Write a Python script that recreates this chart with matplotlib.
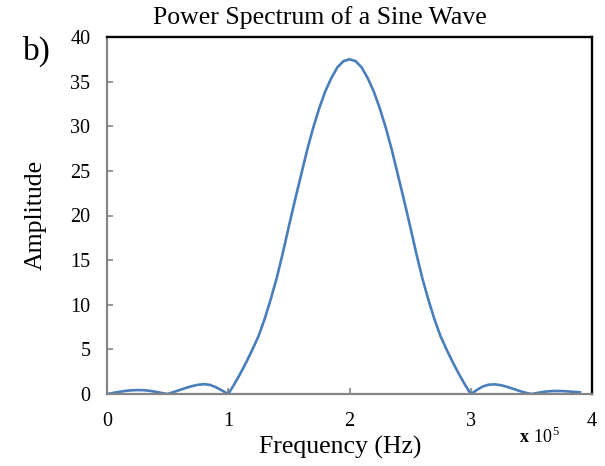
import numpy as np
import matplotlib
matplotlib.use("Agg")
import matplotlib.pyplot as plt

plt.rcParams["font.family"] = ["Liberation Serif", "DejaVu Serif"]
plt.rcParams["mathtext.fontset"] = "custom"
plt.rcParams["mathtext.rm"] = "Liberation Serif"
plt.rcParams["mathtext.bf"] = "Liberation Serif:bold"

# frequency in units of 1e5 Hz, sampled every 0.05
freq = np.linspace(0, 3.9, 79)

side_left = [0.0, 0.12, 0.24, 0.34, 0.41, 0.44, 0.43, 0.36, 0.25, 0.12,
             0.0, 0.22, 0.45, 0.68, 0.88, 1.03, 1.10, 1.02, 0.75, 0.38]
main_lobe = [0.0, 1.1, 2.3, 3.6, 5.0, 6.5, 8.4, 10.6, 13.0, 15.8,
             18.8, 21.7, 24.5, 27.3, 29.8, 32.0, 33.9, 35.4, 36.6, 37.3,
             37.5, 37.3, 36.6, 35.4, 33.9, 32.0, 29.8, 27.3, 24.5, 21.7,
             18.8, 15.8, 13.0, 10.6, 8.4, 6.5, 5.0, 3.6, 2.3, 1.1]
side_right = [0.0, 0.45, 0.85, 1.05, 1.08, 0.98, 0.80, 0.58, 0.35, 0.15,
              0.0, 0.12, 0.24, 0.31, 0.34, 0.33, 0.29, 0.24, 0.19]
amplitude = side_left + main_lobe + side_right

fig = plt.figure(figsize=(6.05, 4.66), dpi=100)
ax = fig.add_axes([107/605, 72/466, 485/605, 357/466])

ax.plot(freq, amplitude, color="#4a7ebb", lw=1.9, solid_joinstyle="round")

ax.set_xlim(0, 4)
ax.set_ylim(0, 40)
ax.set_xticks([0, 1, 2, 3, 4])
ax.set_yticks(range(0, 41, 5))

for side in ["left", "bottom"]:
    ax.spines[side].set_color("#858585")
    ax.spines[side].set_linewidth(1.6)
for side in ["top", "right"]:
    ax.spines[side].set_color("black")
    ax.spines[side].set_linewidth(1.7)

ax.tick_params(axis="both", direction="in", length=4, width=1.2,
               color="#858585", labelsize=14.5)
ax.tick_params(axis="y", pad=12)
ax.tick_params(axis="x", pad=13)

fig.text(320/605, 1 - 18/466, "Power Spectrum of a Sine Wave",
         ha="center", va="center", fontsize=18.5)
fig.text(340/605, 1 - 447/466, "Frequency (Hz)",
         ha="center", va="center", fontsize=18.5)
fig.text(36/605, 1 - 215/466, "Amplitude", rotation=90,
         ha="center", va="center", fontsize=18.5)
fig.text(37/605, 1 - 51/466, "b)", ha="center", va="center", fontsize=24)
fig.text(539/605, 1 - 437/466, r"$\mathbf{x}\ 10^{5}$",
         ha="center", va="center", fontsize=13)

fig.savefig("out.png", dpi=100)
